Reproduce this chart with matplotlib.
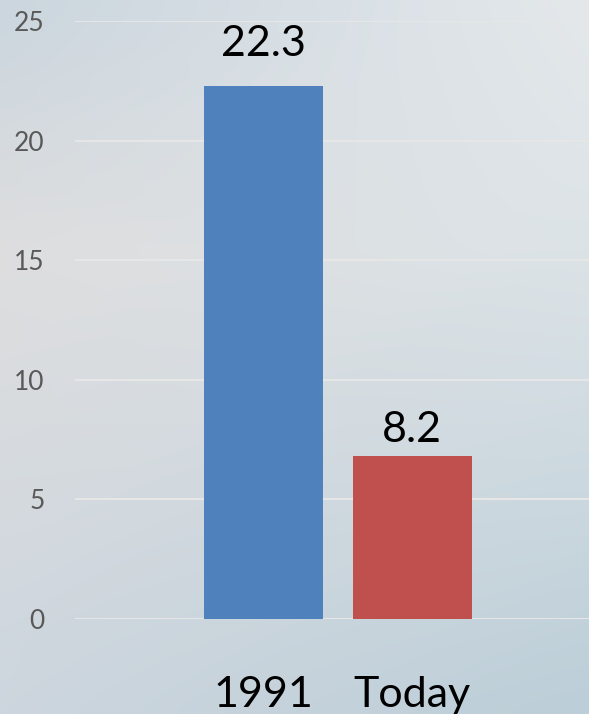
import numpy as np
import matplotlib
matplotlib.use("Agg")
import matplotlib.pyplot as plt

categories = ["1991", "Today"]
bar_values = [22.3, 6.8]
value_labels = ["22.3", "8.2"]
bar_colors = ["#4F81BD", "#C0504D"]
y_ticks = [0, 5, 10, 15, 20, 25]

plt.rcParams['font.family'] = ['Lato', 'DejaVu Sans']

W, H = 589, 714
fig = plt.figure(figsize=(W / 100, H / 100), dpi=100)

# background gradient
bg = fig.add_axes([0, 0, 1, 1])
ny, nx = 60, 60
yy, xx = np.mgrid[0:1:ny * 1j, 0:1:nx * 1j]
tl = np.array([203, 214, 222]) / 255
tr = np.array([228, 232, 235]) / 255
ml = np.array([222, 222, 223]) / 255
mr = np.array([220, 227, 231]) / 255
bl = np.array([205, 214, 222]) / 255
br = np.array([188, 206, 216]) / 255
img = np.zeros((ny, nx, 3))
for i in range(ny):
    t = yy[i, 0]
    if t < 0.35:
        s = t / 0.35
        L = tl * (1 - s) + ml * s
        R = tr * (1 - s) + mr * s
    else:
        s = (t - 0.35) / 0.65
        L = ml * (1 - s) + bl * s
        R = mr * (1 - s) + br * s
    for j in range(nx):
        u = xx[i, j]
        img[i, j] = L * (1 - u) + R * u
bg.imshow(img, aspect='auto', extent=[0, 1, 1, 0], interpolation='bicubic')
bg.set_axis_off()

ax = fig.add_axes([75 / W, (H - 619) / H, (W - 75) / W, 598 / H])
ax.patch.set_alpha(0)
x = np.arange(len(categories))
bars = ax.bar(x, bar_values, width=0.8, color=bar_colors, zorder=3)
ax.set_ylim(0, 25)
ax.set_xlim(-1.27, 2.19)
ax.set_yticks(y_ticks)
ax.set_yticklabels([str(t) for t in y_ticks], fontsize=19, color="#595959")
ax.set_xticks(x)
ax.set_xticklabels(categories, fontsize=31, color="black")
ax.tick_params(axis='y', length=0, pad=22)
ax.tick_params(axis='x', length=0, pad=41)
ax.grid(axis='y', color="#E6E6E6", linewidth=1.5, zorder=0)
for s in ax.spines.values():
    s.set_visible(False)

offsets = [30, 14]
for b, lab, off in zip(bars, value_labels, offsets):
    ax.annotate(lab, (b.get_x() + b.get_width() / 2, b.get_height()),
                xytext=(0, off * 0.72), textcoords='offset points',
                ha='center', va='baseline', fontsize=31, color='black')

fig.savefig("out.png", dpi=100)
